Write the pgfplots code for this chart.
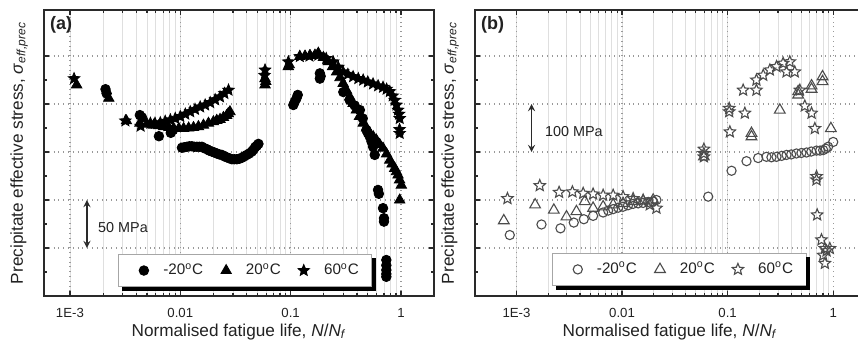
\documentclass[border=0pt]{standalone}
\usepackage{pgfplots}
\pgfplotsset{compat=1.18}
\usepackage{fontspec}
\setmainfont{Liberation Sans}
\definecolor{axc}{HTML}{2A2A2A}
\definecolor{txt}{HTML}{222222}
\pgfdeclareplotmark{fivestar}{%
  \pgfpathmoveto{\pgfpointpolar{90}{\pgfplotmarksize}}%
  \pgfpathlineto{\pgfpointpolar{126}{0.45\pgfplotmarksize}}%
  \pgfpathlineto{\pgfpointpolar{162}{\pgfplotmarksize}}%
  \pgfpathlineto{\pgfpointpolar{198}{0.45\pgfplotmarksize}}%
  \pgfpathlineto{\pgfpointpolar{234}{\pgfplotmarksize}}%
  \pgfpathlineto{\pgfpointpolar{270}{0.45\pgfplotmarksize}}%
  \pgfpathlineto{\pgfpointpolar{306}{\pgfplotmarksize}}%
  \pgfpathlineto{\pgfpointpolar{342}{0.45\pgfplotmarksize}}%
  \pgfpathlineto{\pgfpointpolar{18}{\pgfplotmarksize}}%
  \pgfpathlineto{\pgfpointpolar{54}{0.45\pgfplotmarksize}}%
  \pgfpathclose
  \pgfusepathqfillstroke}
\pgfdeclareplotmark{fivestaro}{%
  \pgfpathmoveto{\pgfpointpolar{90}{\pgfplotmarksize}}%
  \pgfpathlineto{\pgfpointpolar{126}{0.45\pgfplotmarksize}}%
  \pgfpathlineto{\pgfpointpolar{162}{\pgfplotmarksize}}%
  \pgfpathlineto{\pgfpointpolar{198}{0.45\pgfplotmarksize}}%
  \pgfpathlineto{\pgfpointpolar{234}{\pgfplotmarksize}}%
  \pgfpathlineto{\pgfpointpolar{270}{0.45\pgfplotmarksize}}%
  \pgfpathlineto{\pgfpointpolar{306}{\pgfplotmarksize}}%
  \pgfpathlineto{\pgfpointpolar{342}{0.45\pgfplotmarksize}}%
  \pgfpathlineto{\pgfpointpolar{18}{\pgfplotmarksize}}%
  \pgfpathlineto{\pgfpointpolar{54}{0.45\pgfplotmarksize}}%
  \pgfpathclose
  \pgfusepathqstroke}
\pgfplotsset{
  myleg/.style={legend image code/.code={\path (-8pt,0pt) (2pt,0pt); \draw[##1] plot coordinates {(0pt,0pt)};}},
  mypanelstyle/.style={
    scale only axis, width=195pt, height=143pt,
    ymin=0, ymax=5.96,
    ytick={0,1,2,3,4,5}, yticklabels={}, minor y tick num=1,
    xtick={0.001,0.01,0.1,1}, xticklabels={1E-3,0.01,0.1,1},
    xticklabel style={font=\fontsize{6.6}{7}\selectfont, text=txt, yshift=-2.5pt},
    tick align=inside, major tick length=2.6pt, minor tick length=1.6pt,
    tick style={axc, line width=0.6pt},
    axis line style={axc, line width=0.9pt},
    xmajorgrids=true, xminorgrids=true, ymajorgrids=true,
    major grid style={gray!80, dotted, line width=0.6pt},
    minor x grid style={gray!25, line width=0.4pt},
    xlabel={Normalised fatigue life, \textit{N}/\textit{N}\textsubscript{\textit{f}}},
    ylabel={Precipitate effective stress, \textit{σ}\textsubscript{\textit{eff,prec}}},
    label style={font=\fontsize{8.6}{9}\selectfont, text=txt},
    xlabel style={at={(axis description cs:0.5,-0.125)}, anchor=center},
    ylabel style={at={(axis description cs:-0.064,0.5)}, anchor=center},
    legend columns=-1,
    legend style={font=\fontsize{7.6}{9}\selectfont, text=txt, draw=gray!70, line width=0.4pt,
      fill=white, anchor=south west, inner xsep=4.5pt, inner ysep=2.5pt,
      /tikz/every odd column/.append style={column sep=5.3pt},
      /tikz/every even column/.append style={column sep=1.3pt}},
    legend cell align=left,
  }
}
\begin{document}
\begin{tikzpicture}
\path[use as bounding box] (0,0) rectangle (429pt,-173pt);
% ---------------- panel (a)
\begin{semilogxaxis}[mypanelstyle, at={(22pt,-148pt)}, anchor=south west,
  xmin=5.82e-4, xmax=1.99,
  legend style={at={(0.19,0.031)}, name=legA}]
\addplot[only marks, mark=*, mark size=2.4pt, draw=black, fill=black, myleg] coordinates {
(0.0021,4.31)(0.00215,4.22)(0.0043,3.77)(0.0045,3.72)(0.0064,3.33)(0.0082,3.40)(0.0086,3.46)
(0.01035,3.09)(0.0109,3.10)(0.01148,3.11)(0.0121,3.12)(0.01274,3.12)(0.0134,3.11)(0.01413,3.11)
(0.0149,3.11)(0.0157,3.11)(0.0165,3.08)(0.01742,3.06)(0.0183,3.03)(0.01932,3.01)(0.0204,2.99)
(0.02143,2.97)(0.0226,2.95)(0.02382,2.94)(0.0251,2.91)(0.02642,2.89)(0.0278,2.87)(0.02931,2.85)
(0.0309,2.85)(0.03251,2.85)(0.0343,2.86)(0.03606,2.88)(0.038,2.91)(0.04,2.94)(0.0422,2.97)
(0.04446,3.01)(0.0461,3.05)(0.04764,3.10)(0.0493,3.13)(0.05105,3.17)
(0.1057,3.98)(0.109,4.05)(0.113,4.12)(0.116,4.19)
(0.184,4.64)(0.184,4.53)(0.187,4.58)
(0.30,4.25)(0.343,4.08)(0.38,3.97)(0.424,3.875)(0.45,3.70)(0.486,3.46)(0.50,3.40)(0.521,3.32)
(0.54,3.22)(0.558,3.11)(0.578,2.94)(0.619,2.21)(0.63,2.13)(0.687,1.83)(0.701,1.55)(0.701,1.62)
(0.736,0.75)(0.736,0.64)(0.736,0.54)(0.736,0.46)(0.736,0.40)
};
\addlegendentry{-20\textsuperscript{o}C}
\addplot[only marks, mark=triangle*, mark size=3pt, draw=black, fill=black, myleg] coordinates {
(0.00115,4.40)(0.00225,4.12)(0.00325,3.65)(0.0043,3.60)
(0.0050,3.58)(0.00574,3.56)(0.0064,3.55)(0.00708,3.53)(0.0079,3.51)(0.00871,3.49)(0.0097,3.49)
(0.01072,3.49)(0.0119,3.50)(0.01318,3.51)(0.0146,3.53)(0.01622,3.56)(0.018,3.60)(0.01995,3.63)
(0.0214,3.66)(0.02291,3.68)(0.0246,3.72)(0.0263,3.76)(0.0272,3.80)(0.02818,3.84)
(0.0586,4.40)(0.0586,4.53)(0.0595,4.47)
(0.0953,4.78)(0.097,4.82)(0.121,4.99)(0.135,5.00)(0.15,5.01)(0.166,5.02)(0.178,5.06)
(0.198,4.97)(0.219,4.88)(0.24,4.78)(0.261,4.67)(0.28,4.55)(0.299,4.43)(0.32,4.29)(0.343,4.15)
(0.368,4.01)(0.394,3.875)(0.42,3.74)(0.454,3.60)(0.487,3.50)(0.521,3.39)(0.56,3.32)(0.598,3.25)
(0.64,3.16)(0.687,3.08)(0.74,2.96)(0.791,2.83)(0.83,2.75)(0.877,2.66)(0.91,2.59)(0.940,2.52)
(0.97,2.42)(1.007,2.31)(0.973,2.0)
};
\addlegendentry{20\textsuperscript{o}C}
\addplot[only marks, mark=fivestar, mark size=3pt, draw=black, fill=black, myleg] coordinates {
(0.00109,4.53)(0.00318,3.65)(0.00437,3.54)
(0.00536,3.60)(0.0059,3.60)(0.00659,3.61)(0.0073,3.64)(0.00813,3.67)(0.009,3.70)(0.0100,3.74)
(0.0111,3.79)(0.0123,3.84)(0.0136,3.89)(0.01514,3.94)(0.0168,3.98)(0.01866,4.03)(0.0207,4.09)
(0.02291,4.15)(0.0251,4.22)(0.02735,4.29)
(0.0586,4.71)(0.058,4.60)(0.0953,4.88)
(0.121,4.99)(0.148,5.0)(0.178,5.02)(0.21,4.95)(0.243,4.88)(0.27,4.77)(0.299,4.67)(0.33,4.62)
(0.368,4.57)(0.41,4.53)(0.454,4.50)(0.50,4.46)(0.558,4.42)(0.62,4.38)(0.687,4.35)(0.74,4.31)
(0.791,4.26)(0.84,4.17)(0.877,4.08)(0.91,3.98)(0.940,3.875)(0.96,3.79)(0.973,3.70)(0.973,3.39)(0.97,3.47)
};
\addlegendentry{60\textsuperscript{o}C}
\draw[<->, >=stealth, axc, line width=0.6pt] (axis cs:0.001426,2) -- (axis cs:0.001426,1);
\node[anchor=west, font=\fontsize{7.2}{8}\selectfont, text=txt, inner sep=0pt] at (axis cs:0.00179,1.42) {50 MPa};
\node[anchor=north west, font=\fontsize{9}{10}\selectfont\bfseries, text=txt, inner sep=0pt] at (axis description cs:0.015,0.978) {(a)};
\end{semilogxaxis}
\fill[black] ([xshift=2pt]legA.south west) rectangle ([xshift=2pt,yshift=-2pt]legA.south east);
\fill[black] ([yshift=-2pt]legA.north east) rectangle ([xshift=2pt]legA.south east);
% ---------------- panel (b)
\begin{semilogxaxis}[mypanelstyle, at={(237.5pt,-148pt)}, anchor=south west,
  xmin=4.05e-4, xmax=2.0,
  legend style={at={(0.197,0.035)}, name=legB}]
\addplot[only marks, mark=o, mark size=2.3pt, draw=black!70, line width=0.55pt, myleg] coordinates {
(8.65e-4,1.27)(0.001726,1.49)(0.002612,1.41)(0.003491,1.53)(0.004345,1.60)(0.005321,1.67)
(0.006622,1.74)(0.0074,1.78)(0.008241,1.81)(0.0092,1.84)(0.01023,1.86)(0.0114,1.89)(0.01274,1.92)
(0.0142,1.93)(0.01585,1.94)(0.0177,1.96)(0.01972,1.97)(0.02118,2.0)
(0.0655,2.07)(0.1089,2.61)(0.151,2.81)(0.1945,2.875)(0.2333,2.90)(0.26,2.89)(0.2904,2.90)
(0.325,2.92)(0.3614,2.94)(0.40,2.95)(0.4487,2.97)(0.50,2.98)(0.5585,2.99)(0.62,3.01)(0.695,3.03)
(0.75,3.03)(0.8035,3.04)(0.85,3.07)(0.895,3.11)(1.0,3.21)
};
\addlegendentry{-20\textsuperscript{o}C}
\addplot[only marks, mark=triangle, mark size=3.1pt, draw=black!70, line width=0.55pt, myleg] coordinates {
(7.59e-4,1.57)(0.001503,1.90)(0.00226,1.79)(0.002979,1.65)(0.003698,1.76)(0.004436,1.97)
(0.005321,1.83)(0.006622,1.86)(0.008241,1.90)(0.01023,1.93)(0.01274,1.97)(0.01585,1.98)(0.01972,2.0)
(0.0596,2.90)(0.1683,3.39)(0.1683,3.32)(0.312,3.875)(0.4656,4.19)(0.4656,4.26)
(0.6237,4.38)(0.6237,4.31)(0.7925,4.57)(0.7925,4.47)(0.9506,3.49)
};
\addlegendentry{20\textsuperscript{o}C}
\addplot[only marks, mark=fivestaro, mark size=3pt, draw=black!70, line width=0.55pt, myleg] coordinates {
(8.22e-4,2.03)(0.001663,2.30)(0.002535,2.16)(0.003388,2.17)(0.004285,2.14)(0.005321,2.125)
(0.006622,2.10)(0.008241,2.10)(0.01023,2.07)(0.01274,2.03)(0.01585,2.0)(0.01832,1.90)(0.02118,1.83)
(0.0596,3.06)(0.0596,2.97)(0.0596,2.90)(0.1035,3.91)(0.1035,3.84)(0.105,3.42)
(0.1403,4.29)(0.1875,4.29)(0.1456,3.81)(0.1875,4.5)(0.2173,4.6)(0.2512,4.71)(0.2904,4.78)
(0.3357,4.85)(0.3882,4.88)(0.4325,4.67)(0.3614,4.67)(0.4831,4.29)(0.5383,3.96)(0.6237,3.81)
(0.67,3.49)(0.695,2.49)(0.695,2.42)(0.705,1.69)(0.7745,1.17)(0.834,0.99)(0.8035,0.85)(0.865,0.94)
(0.834,0.68)(0.929,0.99)
};
\addlegendentry{60\textsuperscript{o}C}
\draw[<->, >=stealth, axc, line width=0.6pt] (axis cs:0.00139,4) -- (axis cs:0.00139,3);
\node[anchor=west, font=\fontsize{7.2}{8}\selectfont, text=txt, inner sep=0pt] at (axis cs:0.00185,3.42) {100 MPa};
\node[anchor=north west, font=\fontsize{9}{10}\selectfont\bfseries, text=txt, inner sep=0pt] at (axis description cs:0.015,0.978) {(b)};
\end{semilogxaxis}
\fill[black] ([xshift=2pt]legB.south west) rectangle ([xshift=2pt,yshift=-2pt]legB.south east);
\fill[black] ([yshift=-2pt]legB.north east) rectangle ([xshift=2pt]legB.south east);
\end{tikzpicture}
\end{document}
